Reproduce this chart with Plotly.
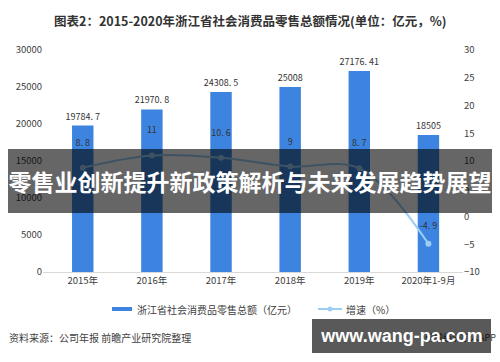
import plotly.graph_objects as go

categories = ["2015年", "2016年", "2017年", "2018年", "2019年", "2020年1-9月"]
retail_total = [19784.7, 21970.8, 24308.5, 25008, 27176.41, 18505]
retail_labels = ["19784. 7", "21970. 8", "24308. 5", "25008", "27176. 41", "18505"]
growth = [8.8, 11, 10.6, 9, 8.7, -4.9]
growth_labels = ["8. 8", "11", "10. 6", "9", "8. 7", "-4. 9"]

title_text = "图表2：2015-2020年浙江省社会消费品零售总额情况(单位：亿元，%)"
banner_text = "零售业创新提升新政策解析与未来发展趋势展望"
source_text = "资料来源：公司年报 前瞻产业研究院整理"
app_text = "前瞻经济学人APP"
site_text = "www.wang-pa.com"
legend_bar = "浙江省社会消费品零售总额（亿元）"
legend_line = "增速（%）"

FONT = "Noto Sans CJK SC, Noto Sans, sans-serif"
BAR_C = "#3d84e0"
LINE_C = "#9ccdf5"
L, R, T, B = 43, 37, 50, 90
W, H = 500, 362
PW, PH = W - L - R, H - T - B

def px(x):
    return (x - L) / PW

def py(y):
    return (H - B - y) / PH

fig = go.Figure()
fig.add_trace(go.Bar(
    x=categories, y=retail_total, name=legend_bar,
    marker=dict(color=BAR_C, line=dict(width=0)), width=0.31,
    text=retail_labels, textposition="outside", cliponaxis=False, constraintext="none",
    textfont=dict(size=9, color="#333333", family=FONT),
))
fig.add_trace(go.Scatter(
    x=categories, y=growth, name=legend_line, yaxis="y2",
    mode="lines+markers", line=dict(color=LINE_C, width=2, shape="spline"),
    marker=dict(size=6, color=LINE_C),
))
# labels for the growth line, offset above the points
fig.add_trace(go.Scatter(
    x=categories, y=growth, yaxis="y2", mode="markers+text", hoverinfo="skip",
    marker=dict(size=[30, 30, 30, 30, 30, 18], opacity=0),
    text=growth_labels, textposition="top center", cliponaxis=False,
    textfont=dict(size=9, color="#333333", family=FONT),
))

fig.update_layout(
    width=W, height=H, margin=dict(l=L, r=R, t=T, b=B, autoexpand=False),
    paper_bgcolor="white", plot_bgcolor="white",
    font=dict(family=FONT, size=9, color="#404040"),
    showlegend=False,
    xaxis=dict(showline=True, linecolor="#d9d9d9", linewidth=1, showgrid=False,
               ticks="", tickfont=dict(size=9.5, color="#404040")),
    yaxis=dict(range=[0, 30000], dtick=5000, tickformat="d", showgrid=False, zeroline=False,
               showline=False, ticks="", tickfont=dict(size=9.5, color="#404040")),
    yaxis2=dict(range=[-10, 30], dtick=5, overlaying="y", side="right",
                showgrid=False, zeroline=False, showline=False, ticks="",
                tickfont=dict(size=9.5, color="#404040")),
)

shapes = [
    dict(type="rect", xref="paper", yref="paper", x0=px(112), x1=px(132), y0=py(311), y1=py(307),
         fillcolor=BAR_C, line=dict(width=0)),
    dict(type="line", xref="paper", yref="paper", x0=px(318), x1=px(342), y0=py(309), y1=py(309),
         line=dict(color=LINE_C, width=2)),
    dict(type="circle", xref="paper", yref="paper", x0=px(327.5), x1=px(332.5), y0=py(311.5), y1=py(306.5),
         fillcolor=LINE_C, line=dict(width=0)),
]
fig.update_layout(shapes=shapes)

annotations = [
    dict(text="<b>" + title_text + "</b>", x=px(250), y=py(20), xref="paper", yref="paper",
         xanchor="center", yanchor="middle", showarrow=False,
         font=dict(size=12.5, color="#333333", family=FONT)),
    dict(text=legend_bar, x=px(135), y=py(309), xref="paper", yref="paper",
         xanchor="left", yanchor="middle", showarrow=False,
         font=dict(size=10, color="#404040", family=FONT)),
    dict(text=legend_line, x=px(344), y=py(309), xref="paper", yref="paper",
         xanchor="left", yanchor="middle", showarrow=False,
         font=dict(size=10, color="#404040", family=FONT)),
    dict(text=source_text, x=px(7), y=py(337), xref="paper", yref="paper",
         xanchor="left", yanchor="middle", showarrow=False,
         font=dict(size=10, color="#404040", family=FONT)),
    dict(text=app_text, x=px(498), y=py(337), xref="paper", yref="paper",
         xanchor="right", yanchor="middle", showarrow=False,
         font=dict(size=9, color="#404040", family=FONT)),
    dict(text="<b>" + banner_text + "</b>", x=px(250), y=py(181), xref="paper", yref="paper",
         xanchor="center", yanchor="middle", showarrow=False, width=484, height=64,
         bgcolor="rgba(0,0,0,0.6)", borderpad=0, borderwidth=0,
         font=dict(size=23, color="white", family=FONT)),
    dict(text="<b>" + site_text + "</b>", x=px(401.5), y=py(336), xref="paper", yref="paper",
         xanchor="center", yanchor="middle", showarrow=False, width=179, height=34,
         bgcolor="rgba(0,0,0,0.65)", borderpad=0, borderwidth=0,
         font=dict(size=18, color="white", family="Liberation Sans, Arial, sans-serif")),
]
fig.update_layout(annotations=annotations)

fig.write_html("out.html")
